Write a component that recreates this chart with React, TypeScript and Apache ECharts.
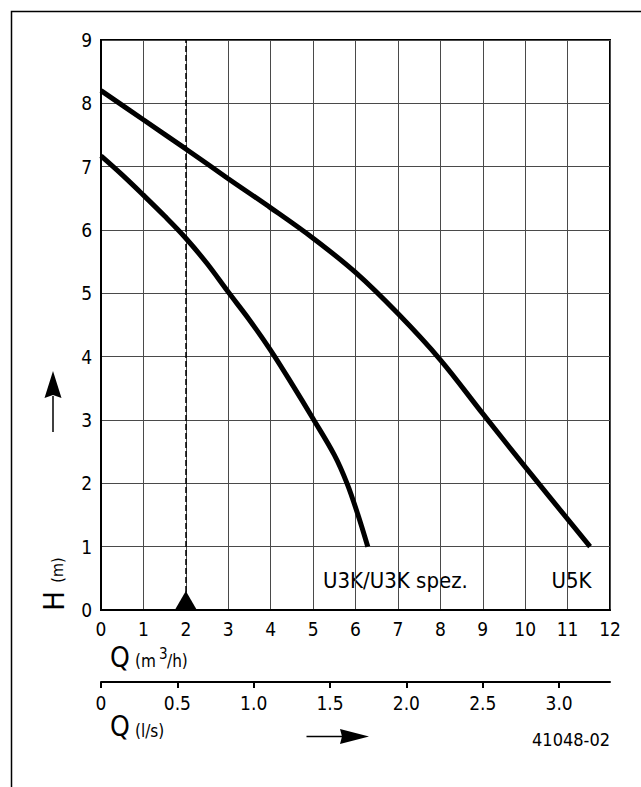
import React, { useEffect, useRef } from "react";
import * as echarts from "echarts";

const FONT = "'DejaVu Sans Condensed', 'Liberation Sans Narrow', 'DejaVu Sans', sans-serif";

// Axis definitions
const Q_M3H_MIN = 0;
const Q_M3H_MAX = 12;
const H_MIN = 0;
const H_MAX = 9;
const M3H_PER_LS = 3.6;
const LS_TICKS = [0, 0.5, 1.0, 1.5, 2.0, 2.5, 3.0];

// Pump curves (Q in m³/h, H in m)
const U5K_Q = [0, 1, 2, 3, 4, 5, 6, 7, 8, 9, 10, 11.53];
const U5K_H = [8.2, 7.74, 7.28, 6.81, 6.35, 5.87, 5.33, 4.68, 3.95, 3.1, 2.26, 1.0];

const U3K_Q = [0, 0.5, 1, 1.5, 2, 2.5, 3, 3.5, 4, 4.5, 5, 5.5, 5.8, 6.05, 6.29];
const U3K_H = [7.17, 6.87, 6.55, 6.22, 5.87, 5.47, 5.02, 4.58, 4.1, 3.57, 3.02, 2.45, 2.0, 1.52, 1.0];

// Duty point marker
const DUTY_Q = [2];
const DUTY_H = [0];

const LABEL_U3K = "U3K/U3K spez.";
const LABEL_U5K = "U5K";
const DRAWING_NO = "41048-02";

const zip = (a: number[], b: number[]) => a.map((v, i) => [v, b[i]]);

export default function App() {
  const ref = useRef<HTMLDivElement>(null);

  useEffect(() => {
    if (!ref.current) return;
    const chart = echarts.init(ref.current, null, { renderer: "svg" });
    const black = "#000";
    const gridColor = "#4a4a4a";
    const txt = (text: string, x: number, y: number, fontSize: number, align: string, extra: any = {}) => ({
      type: "text",
      x,
      y,
      ...extra,
      style: {
        text,
        fontSize,
        fontFamily: FONT,
        fill: black,
        align,
        verticalAlign: "middle",
        textAlign: align,
        textVerticalAlign: "middle",
      },
    });

    chart.setOption({
      animation: false,
      backgroundColor: "#fff",
      textStyle: { fontFamily: FONT, color: black },
      grid: {
        left: 101,
        top: 40,
        right: 31,
        bottom: 177,
        show: true,
        borderColor: black,
        borderWidth: 2,
        backgroundColor: "transparent",
      },
      xAxis: [
        {
          type: "value",
          min: Q_M3H_MIN,
          max: Q_M3H_MAX,
          interval: 1,
          position: "bottom",
          axisLine: { show: true, onZero: false, lineStyle: { color: black, width: 2 } },
          axisTick: { show: false },
          splitLine: { show: true, lineStyle: { color: gridColor, width: 1 } },
          axisLabel: { color: black, fontSize: 19, fontFamily: FONT, margin: 9 },
        },
        {
          type: "value",
          min: Q_M3H_MIN / M3H_PER_LS,
          max: Q_M3H_MAX / M3H_PER_LS,
          position: "bottom",
          offset: 72,
          axisLine: { show: true, onZero: false, lineStyle: { color: black, width: 2 } },
          axisTick: {
            show: true,
            length: 6,
            customValues: LS_TICKS,
            lineStyle: { color: black, width: 2 },
          },
          splitLine: { show: false },
          axisLabel: {
            color: black,
            fontSize: 19,
            fontFamily: FONT,
            margin: 11,
            customValues: LS_TICKS,
            formatter: (v: number) => (v === 0 ? "0" : v.toFixed(1)),
          },
        },
      ],
      yAxis: {
        type: "value",
        min: H_MIN,
        max: H_MAX,
        interval: 1,
        axisLine: { show: true, onZero: false, lineStyle: { color: black, width: 2 } },
        axisTick: { show: false },
        splitLine: { show: true, lineStyle: { color: gridColor, width: 1 } },
        axisLabel: { color: black, fontSize: 19, fontFamily: FONT, margin: 9 },
      },
      series: [
        {
          name: "U5K",
          type: "line",
          data: zip(U5K_Q, U5K_H),
          showSymbol: false,
          smooth: 0.35,
          lineStyle: { color: black, width: 5, cap: "butt" },
          z: 5,
        },
        {
          name: "U3K/U3K spez.",
          type: "line",
          data: zip(U3K_Q, U3K_H),
          showSymbol: false,
          smooth: 0.35,
          lineStyle: { color: black, width: 5, cap: "butt" },
          z: 5,
        },
        {
          name: "duty",
          type: "scatter",
          data: zip(DUTY_Q, DUTY_H),
          symbol: "triangle",
          symbolSize: [22, 19],
          symbolOffset: [0, "-50%"],
          itemStyle: { color: black, opacity: 1 },
          clip: false,
          z: 6,
          markLine: {
            silent: true,
            symbol: "none",
            label: { show: false },
            lineStyle: { color: black, width: 1.5, type: [6, 3], opacity: 1 },
            data: DUTY_Q.map((q) => ({ xAxis: q })),
          },
        },
      ],
      graphic: [
        {
          type: "polyline",
          shape: { points: [[11.5, 787], [11.5, 11.5], [641, 11.5]] },
          style: { stroke: black, lineWidth: 1.5, fill: "none" },
        },
        // up arrow
        {
          type: "line",
          shape: { x1: 53, y1: 432, x2: 53, y2: 396 },
          style: { stroke: black, lineWidth: 1.5 },
        },
        {
          type: "polygon",
          shape: { points: [[53, 371], [44.5, 398], [53, 395], [61.5, 398]] },
          style: { fill: black },
        },
        // right arrow
        {
          type: "line",
          shape: { x1: 306.5, y1: 736.5, x2: 344, y2: 736.5 },
          style: { stroke: black, lineWidth: 1.5 },
        },
        {
          type: "polygon",
          shape: { points: [[369, 736.5], [340, 729], [342, 736.5], [340, 744]] },
          style: { fill: black },
        },
        // H (m)
        txt("H", 54, 601, 29, "center", { rotation: Math.PI / 2 }),
        txt("(m)", 57, 570, 16, "center", { rotation: Math.PI / 2 }),
        // Q (m³/h)
        txt("Q", 110, 657, 28, "left"),
        txt("(m", 135, 661, 17, "left"),
        txt("3", 159, 654, 15, "left"),
        txt("/h)", 167, 661, 17, "left"),
        // Q (l/s)
        txt("Q", 110, 726, 28, "left"),
        txt("(l/s)", 135, 731, 17, "left"),
        // Curve labels
        txt(LABEL_U3K, 323, 580, 22, "left"),
        txt(LABEL_U5K, 571.5, 580, 22, "center"),
        txt(DRAWING_NO, 610, 739, 18, "right"),
      ],
    });

    return () => chart.dispose();
  }, []);

  return (
    <div
      ref={ref}
      style={{ position: "fixed", left: 0, top: 0, width: 641, height: 787, background: "#fff" }}
    />
  );
}
